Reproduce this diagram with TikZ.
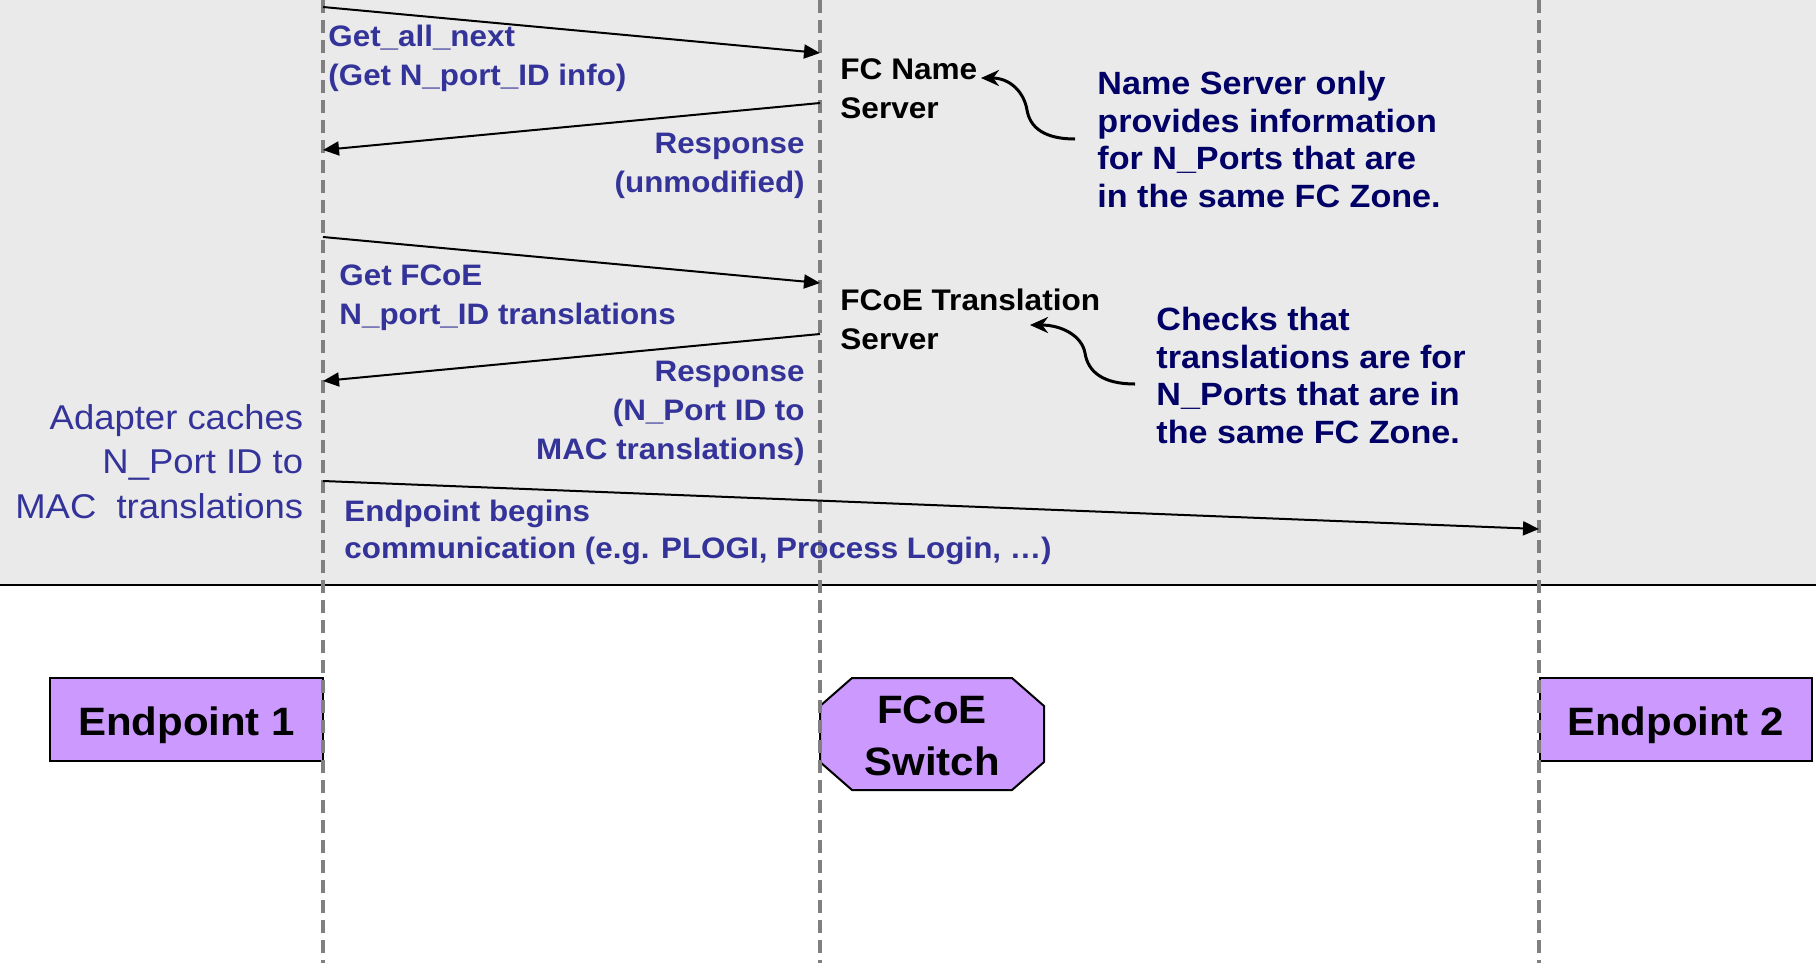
\documentclass[tikz,border=0pt]{standalone}
\usepackage{fontspec}
\setmainfont{Liberation Sans}[FakeStretch=1.06]
\usetikzlibrary{arrows.meta,calc}

\definecolor{bandgray}{HTML}{EAEAEA}
\definecolor{msgblue}{HTML}{333399}
\definecolor{notenavy}{HTML}{000066}
\definecolor{boxpurple}{HTML}{CC99FF}
\definecolor{lifegray}{HTML}{808080}

\tikzset{
  lifeline/.style={lifegray, line width=1.6bp, dash pattern=on 6.5bp off 3.5bp},
  msgarrow/.style={line width=1bp, -{Triangle[length=8bp,width=7bp]}},
  notearrow/.style={line width=1.5bp, -{Stealth[length=9bp,width=8bp]}},
  msglabel/.style={inner sep=0pt, text=msgblue, font=\bfseries\fontsize{14.8bp}{19.4bp}\selectfont},
  serverlabel/.style={inner sep=0pt, text=black, align=left, font=\bfseries\fontsize{14.9bp}{19.5bp}\selectfont},
  notetext/.style={inner sep=0pt, text=notenavy, align=left, font=\bfseries\fontsize{16.1bp}{18.75bp}\selectfont},
  cachetext/.style={inner sep=0pt, text=msgblue, align=right, font=\fontsize{17.2bp}{22.25bp}\selectfont},
  party/.style={draw=black, line width=1bp, fill=boxpurple, minimum width=136bp, minimum height=41.5bp, inner sep=0pt,
    text height=16.6bp, text depth=0pt, font=\bfseries\fontsize{19.8bp}{26bp}\selectfont},
}

\begin{document}
\begin{tikzpicture}[x=0.5bp, y=-0.5bp]
  \useasboundingbox (0,0) rectangle (1816,963);

  % shaded message area and its lower border
  \fill[bandgray] (0,0) rectangle (1816,585);
  \draw[line width=1bp] (0,585) -- (1816,585);

  % participants
  \node[party] (ep1) at (186.5,719) {Endpoint 1};
  \node[party] (ep2) at (1675.5,719) {Endpoint 2};
  \fill[boxpurple, draw=black, line width=1bp]
    (852,678) -- (1012,678) -- (1044,706) -- (1044,762) -- (1012,790)
    -- (852,790) -- (820,762) -- (820,706) -- cycle;
  \node[inner sep=0pt, align=center, font=\bfseries\fontsize{19.8bp}{26bp}\selectfont] (sw) at (932,736) {FCoE\\Switch};

  % lifelines
  \coordinate (l1top) at (323,0);   \coordinate (l1bot) at (323,963);
  \coordinate (l2top) at (820,0);   \coordinate (l2bot) at (820,963);
  \coordinate (l3top) at (1539,0);  \coordinate (l3bot) at (1539,963);
  \draw[lifeline] (l1top) -- (l1bot);
  \draw[lifeline] (l2top) -- (l2bot);
  \draw[lifeline] (l3top) -- (l3bot);

  % message end points on the lifelines
  \coordinate (q1s) at (323,7);    \coordinate (q1e) at (820,53);
  \coordinate (r1s) at (820,103);  \coordinate (r1e) at (323,150);
  \coordinate (q2s) at (323,237);  \coordinate (q2e) at (820,283);
  \coordinate (r2s) at (820,334);  \coordinate (r2e) at (323,381);
  \coordinate (c1s) at (323,481);  \coordinate (c1e) at (1539,529);

  % messages
  \draw[msgarrow] (q1s) -- (q1e);
  \draw[msgarrow] (r1s) -- (r1e);
  \draw[msgarrow] (q2s) -- (q2e);
  \draw[msgarrow] (r2s) -- (r2e);
  \draw[msgarrow] (c1s) -- (c1e);

  % message labels
  \node[msglabel, align=left, anchor=north west] (t1) at (328,24.5) {Get\_all\_next\\(Get N\_port\_ID info)};
  \node[msglabel, align=right, anchor=north east] (t2) at (805,133) {Response\\(unmodified)};
  \node[msglabel, align=left, anchor=north west] (t3) at (339,264.5) {Get FCoE\\N\_port\_ID translations};
  \node[msglabel, align=right, anchor=north east] (t4) at (805,361) {Response\\(N\_Port ID to\\MAC translations)};
  \node[msglabel, align=left, anchor=north west, font=\bfseries\fontsize{14.8bp}{18.7bp}\selectfont] (t5) at (344,499.5)
    {Endpoint begins\\communication (e.g. PLOGI, Process Login, …)};

  % server names
  \node[serverlabel, anchor=north west] (fcns) at (840,58.5) {FC Name\\Server};
  \node[serverlabel, anchor=north west] (fcts) at (840,288.5) {FCoE Translation\\Server};

  % side notes
  \node[notetext, anchor=north west] (n1) at (1097,71)
    {Name Server only\\provides information\\for N\_Ports that are\\in the same FC Zone.};
  \node[notetext, anchor=north west] (n2) at (1156,307)
    {Checks that\\translations are for\\N\_Ports that are in\\the same FC Zone.};
  \node[cachetext, anchor=north east] (cache) at (303.5,404)
    {Adapter caches\\N\_Port ID to\\MAC\ \ translations};

  % note pointers
  \coordinate (p1s) at (1075,139);  \coordinate (p1e) at (981,78);
  \coordinate (p2s) at (1135,384);  \coordinate (p2e) at (1030,325);
  \draw[notearrow] (p1s) .. controls (1045,139) and (1030,128) .. (1027,110)
                         .. controls (1024,92) and (1010,78) .. (p1e);
  \draw[notearrow] (p2s) .. controls (1103,384) and (1088,372) .. (1085,353)
                         .. controls (1082,336) and (1062,325) .. (p2e);
\end{tikzpicture}
\end{document}
